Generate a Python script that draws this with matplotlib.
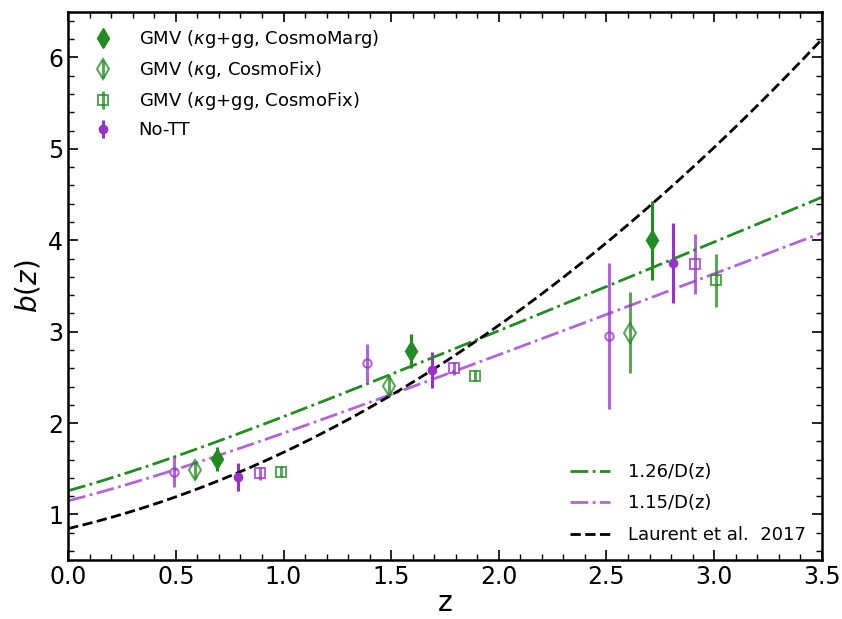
import numpy as np
from matplotlib import pyplot as plt

# measurements: three redshift bins, six estimators each
z_marg = [0.69, 1.59, 2.71]
b_marg = [1.61, 2.79, 4.00]
e_marg = [0.13, 0.19, 0.43]

z_kg_fix = [0.59, 1.49, 2.61]
b_kg_fix = [1.49, 2.41, 2.99]
e_kg_fix = [0.10, 0.12, 0.44]

z_kggg_fix = [0.99, 1.89, 3.01]
b_kggg_fix = [1.47, 2.52, 3.56]
e_kggg_fix = [0.06, 0.06, 0.29]

z_nott = [0.79, 1.69, 2.81]
b_nott = [1.41, 2.58, 3.75]
e_nott = [0.15, 0.20, 0.44]

z_nott_kg = [0.49, 1.39, 2.51]
b_nott_kg = [1.47, 2.66, 2.95]
e_nott_kg = [0.17, 0.21, 0.80]

z_nott_kggg = [0.89, 1.79, 2.91]
b_nott_kggg = [1.45, 2.60, 3.74]
e_nott_kggg = [0.07, 0.07, 0.33]

b0_green = 1.26
b0_purple = 1.15
omega_m = 0.31

GREEN = "forestgreen"
PURPLE = "darkorchid"


def growth(z, om=omega_m):
    # linear growth factor, normalised to 1 at z=0
    a_grid = np.linspace(1e-4, 1, 20000)
    E = lambda a: np.sqrt(om / a**3 + 1 - om)
    integrand = 1.0 / (a_grid * E(a_grid))**3
    cum = np.concatenate([[0], np.cumsum(0.5 * (integrand[1:] + integrand[:-1]) * np.diff(a_grid))])
    D_grid = E(a_grid) * cum
    D_grid /= D_grid[-1]
    return np.interp(1 / (1 + z), a_grid, D_grid)


def laurent(z):
    return 0.278 * ((1 + z)**2 - 6.565) + 2.393


zz = np.linspace(0, 3.5, 300)

fig = plt.figure(figsize=(8.42, 6.19), dpi=100)
ax = fig.add_axes([0.081, 0.095, 0.895, 0.886])

ax.errorbar(z_marg, b_marg, yerr=e_marg, fmt="d", color=GREEN, ms=10, elinewidth=2.2,
            label=r"GMV ($\kappa$g+gg, CosmoMarg)")
ax.errorbar(z_kg_fix, b_kg_fix, yerr=e_kg_fix, fmt="d", color=GREEN, mfc="none", ms=10, mew=1.5,
            elinewidth=2.2, alpha=0.75, label=r"GMV ($\kappa$g, CosmoFix)")
ax.errorbar(z_kggg_fix, b_kggg_fix, yerr=e_kggg_fix, fmt="s", color=GREEN, mfc="none", ms=7, mew=1.5,
            elinewidth=2.2, alpha=0.75, label=r"GMV ($\kappa$g+gg, CosmoFix)")
ax.errorbar(z_nott, b_nott, yerr=e_nott, fmt="o", color=PURPLE, ms=6, elinewidth=2.2, label="No-TT")
ax.errorbar(z_nott_kg, b_nott_kg, yerr=e_nott_kg, fmt="o", color=PURPLE, mfc="none", ms=6, mew=1.5,
            elinewidth=2.2, alpha=0.75)
ax.errorbar(z_nott_kggg, b_nott_kggg, yerr=e_nott_kggg, fmt="s", color=PURPLE, mfc="none", ms=7, mew=1.5,
            elinewidth=2.2, alpha=0.75)

l1, = ax.plot(zz, b0_green / growth(zz), color=GREEN, ls="-.", lw=2, label="1.26/D(z)")
l2, = ax.plot(zz, b0_purple / growth(zz), color=PURPLE, ls="-.", lw=2, alpha=0.75, label="1.15/D(z)")
l3, = ax.plot(zz, laurent(zz), color="k", ls="--", lw=2, label="Laurent et al.  2017")

handles, labels = ax.get_legend_handles_labels()
leg1 = ax.legend(handles[3:], labels[3:], loc="upper left", frameon=False, fontsize=13,
                 handletextpad=1.0, borderaxespad=0.5, labelspacing=0.5)
ax.add_artist(leg1)
ax.legend([l1, l2, l3], [l1.get_label(), l2.get_label(), l3.get_label()], loc="lower right",
          frameon=False, fontsize=13, labelspacing=0.75, handlelength=2.2, handletextpad=1.0)

ax.set_xlim(0, 3.5)
ax.set_ylim(0.5, 6.5)
ax.set_xlabel("z", fontsize=20, labelpad=0)
ax.set_ylabel(r"$b(z)$", fontsize=20)
ax.minorticks_on()
ax.tick_params(which="both", direction="in", top=True, right=True, labelsize=17)
ax.tick_params(which="major", length=7, width=1.2)
ax.tick_params(which="minor", length=4, width=1)
for s in ax.spines.values():
    s.set_linewidth(1.8)

plt.savefig("out.png", dpi=100)
